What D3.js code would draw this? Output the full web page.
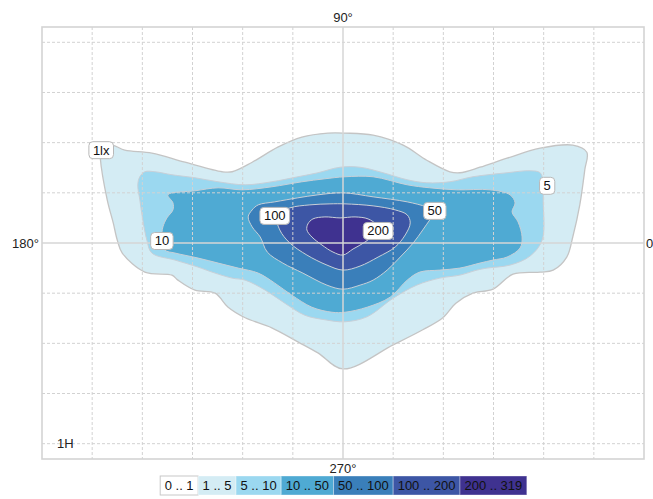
<!DOCTYPE html>
<html>
<head>
<meta charset="utf-8">
<script src="https://cdn.jsdelivr.net/npm/d3@7"></script>
<style>
  html, body { margin: 0; padding: 0; background: #fff; }
  svg { display: block; font-family: "Liberation Sans", Arial, sans-serif; }
</style>
</head>
<body>
<svg id="chart" width="653" height="499"></svg>
<script>
// Isolux diagram: illuminance contours in grid units (1 unit = 1 grid step)

const levels = [1, 5, 10, 50, 100, 200];
const levelLabels = ["1lx", "5", "10", "50", "100", "200"];

const legendRanges = ["0 .. 1", "1 .. 5", "5 .. 10", "10 .. 50", "50 .. 100", "100 .. 200", "200 .. 319"];
const legendColors = ["#ffffff", "#d4ecf4", "#9bd8f0", "#4faad3", "#3a7fba", "#3d56a5", "#3f3290"];

// contour rings, [x, y] per vertex
const contour1 = [
  [-4.84,1.91],[-4.60,1.95],[-4.35,1.85],[-3.81,1.79],[-3.15,1.61],[-2.41,1.42],[-2.21,1.42],
  [-1.81,1.61],[-1.30,1.91],[-0.82,2.11],[-0.30,2.19],[0.04,2.19],[0.60,2.15],[1.20,1.95],
  [1.67,1.65],[2.13,1.42],[2.33,1.40],[2.73,1.51],[3.27,1.69],[3.93,1.89],[4.58,1.95],
  [4.86,1.81],[4.82,1.46],[4.72,0.76],[4.58,0.12],[4.46,-0.28],[4.19,-0.54],[3.93,-0.58],
  [3.39,-0.62],[2.99,-0.92],[2.59,-1.00],[2.25,-1.20],[1.99,-1.49],[1.59,-1.73],[1.00,-2.03],
  [0.00,-2.51],[-0.50,-2.19],[-0.90,-1.97],[-1.42,-1.69],[-1.95,-1.49],[-2.29,-1.28],
  [-2.55,-1.00],[-2.95,-0.94],[-3.29,-0.74],[-3.41,-0.64],[-3.95,-0.58],[-4.40,-0.20],
  [-4.50,0.06],[-4.58,0.40],[-4.70,0.86],[-4.84,1.71]
];
const contour5 = [
  [-4.05,1.32],[-3.95,1.42],[-3.75,1.42],[-3.41,1.36],[-2.95,1.30],[-2.49,1.22],[-1.95,1.16],
  [-1.42,1.22],[-0.90,1.32],[-0.50,1.40],[-0.06,1.51],[0.34,1.51],[0.80,1.40],[1.28,1.26],
  [1.67,1.20],[2.13,1.22],[2.59,1.32],[3.27,1.40],[3.73,1.44],[3.93,1.40],[3.99,1.22],
  [3.99,0.86],[3.97,0.06],[3.73,-0.26],[3.33,-0.44],[2.87,-0.50],[2.67,-0.54],[2.33,-0.64],
  [1.93,-0.70],[1.47,-0.84],[1.00,-1.10],[0.48,-1.47],[0.04,-1.57],[-0.36,-1.53],[-0.76,-1.44],
  [-1.16,-1.20],[-1.55,-0.94],[-1.95,-0.74],[-2.21,-0.70],[-2.61,-0.58],[-2.89,-0.48],
  [-3.35,-0.34],[-3.81,-0.20],[-3.91,0.06],[-3.99,0.46],[-4.05,0.86],[-4.09,1.16]
];
const contour10 = [
  [-3.49,0.96],[-2.95,1.04],[-2.49,1.10],[-2.01,1.06],[-1.42,1.12],[-0.82,1.22],[-0.36,1.28],
  [0.04,1.32],[0.60,1.32],[1.28,1.16],[1.73,1.10],[2.27,1.06],[2.93,1.06],[3.33,0.96],
  [3.43,0.80],[3.37,0.62],[3.49,0.42],[3.57,0.12],[3.53,-0.10],[3.27,-0.28],[2.99,-0.34],
  [2.73,-0.40],[2.33,-0.50],[1.93,-0.54],[1.53,-0.58],[1.28,-0.74],[0.94,-1.08],[0.48,-1.28],
  [0.04,-1.38],[-0.22,-1.38],[-0.62,-1.28],[-1.02,-1.04],[-1.36,-0.80],[-1.69,-0.60],
  [-2.09,-0.50],[-2.49,-0.40],[-2.89,-0.30],[-3.35,-0.20],[-3.55,-0.14],[-3.61,0.12],
  [-3.59,0.32],[-3.51,0.50],[-3.39,0.66],[-3.39,0.80]
];
const contour50 = [
  [-1.81,0.66],[-1.69,0.76],[-1.36,0.82],[-0.90,0.90],[-0.50,0.96],[0.00,1.00],[0.60,0.92],
  [1.28,0.82],[1.67,0.72],[1.87,0.64],[1.73,0.46],[1.59,0.26],[1.40,0.00],[1.14,-0.28],
  [0.88,-0.54],[0.60,-0.74],[0.34,-0.84],[0.00,-0.92],[-0.32,-0.84],[-0.80,-0.60],
  [-1.20,-0.40],[-1.51,-0.18],[-1.65,0.12],[-1.81,0.32],[-1.89,0.52]
];
const contour100 = [
  [-1.32,0.56],[-1.06,0.70],[-0.66,0.76],[-0.26,0.78],[0.04,0.78],[0.60,0.74],[1.04,0.66],
  [1.28,0.56],[1.34,0.40],[1.24,0.16],[1.04,-0.08],[0.70,-0.28],[0.34,-0.46],[0.00,-0.54],
  [-0.32,-0.44],[-0.72,-0.24],[-1.06,0.00],[-1.26,0.26]
];
const contour200 = [
  [-0.70,0.38],[-0.60,0.48],[-0.36,0.52],[-0.06,0.50],[0.24,0.52],[0.50,0.48],[0.66,0.36],
  [0.64,0.20],[0.44,0.02],[0.20,-0.12],[0.00,-0.24],[-0.20,-0.18],[-0.42,-0.04],[-0.62,0.12],
  [-0.72,0.26]
];

// where each contour value is written
const labelPos = [[-4.82,1.85],[4.07,1.14],[-3.61,0.04],[1.83,0.64],[-1.36,0.54],[0.70,0.24]];

const gridX = [-5,-4,-3,-2,-1,0,1,2,3,4,5];
const gridY = [-4,-3,-2,-1,0,1,2,3,4];
const axisLabels = { top: "90°", left: "180°", right: "0", bottom: "270°" };
const heightLabel = "1H";

// ---- layout ----
const svg = d3.select("#chart");
const x = d3.scaleLinear().domain([-6, 6]).range([42, 644]);
const y = d3.scaleLinear().domain([-4.305, 4.305]).range([459, 27]);

const rings = [contour1, contour5, contour10, contour50, contour100, contour200];
const line = d3.line()
  .x(d => x(d[0]))
  .y(d => y(d[1]))
  .curve(d3.curveCatmullRomClosed.alpha(0.5));

// filled bands, outer first
const gFill = svg.append("g");
rings.forEach((ring, i) => {
  gFill.append("path")
    .attr("d", line(ring))
    .attr("fill", legendColors[i + 1])
    .attr("stroke", i === 0 ? "#c4c4c4" : "#c8d0d8")
    .attr("stroke-width", i === 0 ? 1.3 : 1);
});

// grid over the fills
const gGrid = svg.append("g");
gridX.filter(v => v !== 0).forEach(v => {
  gGrid.append("line")
    .attr("x1", x(v)).attr("x2", x(v)).attr("y1", y(4.305)).attr("y2", y(-4.305))
    .attr("stroke", "#d2d2d2").attr("stroke-width", 1).attr("stroke-dasharray", "3,2");
});
gridY.filter(v => v !== 0).forEach(v => {
  gGrid.append("line")
    .attr("x1", x(-6)).attr("x2", x(6)).attr("y1", y(v)).attr("y2", y(v))
    .attr("stroke", "#d2d2d2").attr("stroke-width", 1).attr("stroke-dasharray", "3,2");
});
gGrid.append("line")
  .attr("x1", x(0)).attr("x2", x(0)).attr("y1", y(4.305)).attr("y2", y(-4.305))
  .attr("stroke", "#d6d6d6").attr("stroke-width", 1.5);
gGrid.append("line")
  .attr("x1", x(-6)).attr("x2", x(6)).attr("y1", y(0)).attr("y2", y(0))
  .attr("stroke", "#d6d6d6").attr("stroke-width", 1.5);
gGrid.append("rect")
  .attr("x", x(-6)).attr("y", y(4.305))
  .attr("width", x(6) - x(-6)).attr("height", y(-4.305) - y(4.305))
  .attr("fill", "none").attr("stroke", "#d4d4d4").attr("stroke-width", 1.6);

// direction labels
const fs = 13;
svg.append("text").attr("x", x(0)).attr("y", 22).attr("text-anchor", "middle")
  .attr("font-size", fs).attr("fill", "#222").text(axisLabels.top);
svg.append("text").attr("x", 39).attr("y", y(0) + 5).attr("text-anchor", "end")
  .attr("font-size", fs).attr("fill", "#222").text(axisLabels.left);
svg.append("text").attr("x", 646).attr("y", y(0) + 5).attr("text-anchor", "start")
  .attr("font-size", fs).attr("fill", "#222").text(axisLabels.right);
svg.append("text").attr("x", x(0)).attr("y", 473).attr("text-anchor", "middle")
  .attr("font-size", fs).attr("fill", "#222").text(axisLabels.bottom);
svg.append("text").attr("x", 57).attr("y", y(-4) + 4).attr("text-anchor", "start")
  .attr("font-size", fs).attr("fill", "#222").text(heightLabel);

// contour value tags
const gTags = svg.append("g");
levelLabels.forEach((t, i) => {
  const cx = x(labelPos[i][0]), cy = y(labelPos[i][1]);
  const g = gTags.append("g");
  const txt = g.append("text").attr("x", cx).attr("y", cy + 4.5)
    .attr("text-anchor", "middle").attr("font-size", fs).attr("fill", "#111").text(t);
  const w = txt.node().getComputedTextLength() + 8;
  g.insert("rect", "text")
    .attr("x", cx - w / 2).attr("y", cy - 8.5).attr("width", w).attr("height", 17)
    .attr("rx", 4).attr("fill", "#fff").attr("stroke", "#b8b8b8").attr("stroke-width", 1);
});

// legend strip
const gLeg = svg.append("g");
const pad = 9;
const texts = legendRanges.map(t => {
  const tt = gLeg.append("text").attr("font-size", fs).attr("fill", "#111").text(t);
  return tt;
});
const widths = texts.map(tt => tt.node().getComputedTextLength() + pad);
const total = d3.sum(widths);
let lx = x(0) + 0.5 - total / 2;
texts.forEach((tt, i) => {
  gLeg.insert("rect", "text")
    .attr("x", lx).attr("y", 476).attr("width", widths[i]).attr("height", 19)
    .attr("fill", legendColors[i])
    .attr("stroke", i === 0 ? "#c8c8c8" : "rgba(255,255,255,0.35)")
    .attr("stroke-width", 1);
  tt.attr("x", lx + widths[i] / 2).attr("y", 490).attr("text-anchor", "middle");
  lx += widths[i];
});
</script>
</body>
</html>
